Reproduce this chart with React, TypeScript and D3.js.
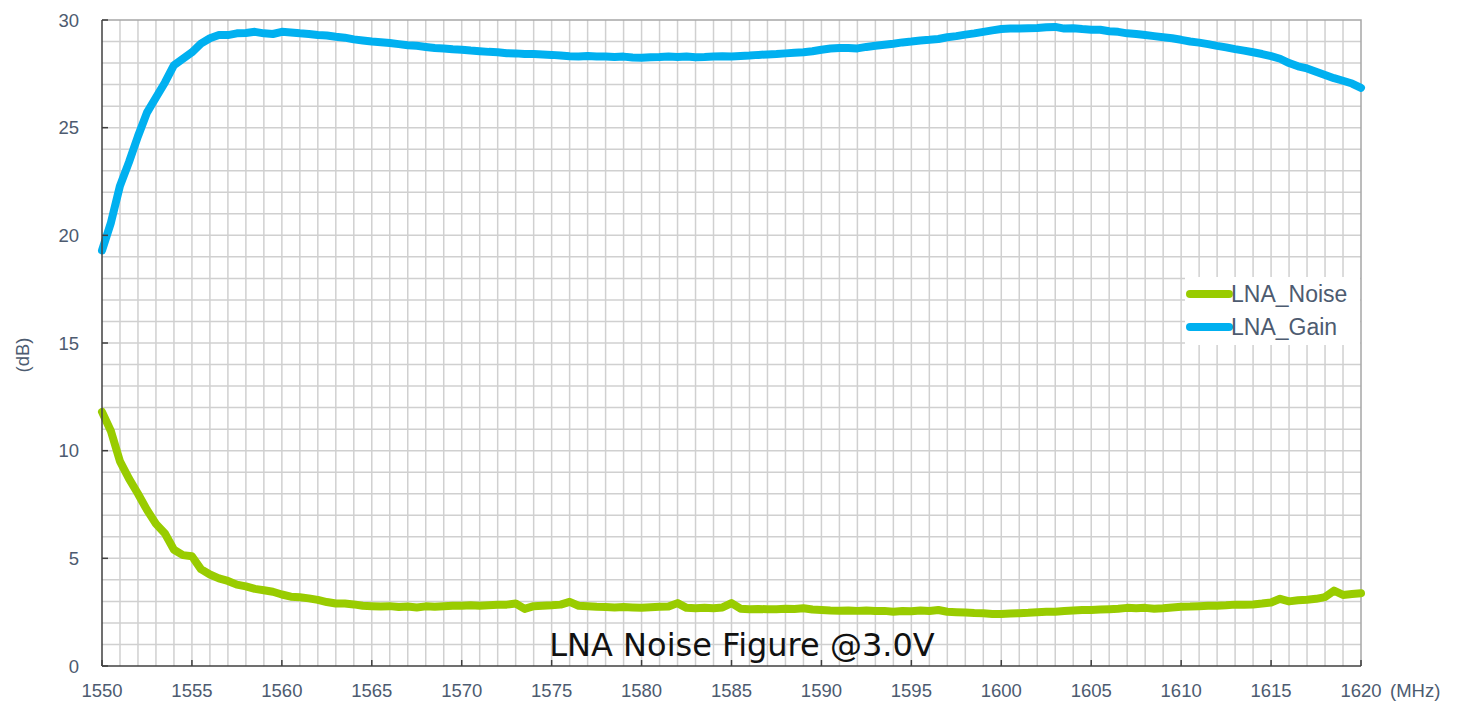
import * as d3 from "d3";

// sweep 1550..1620 MHz, 0.5 MHz step
const freqStart = 1550;
const freqStep = 0.5;

const gain = [
  19.3, 20.6, 22.3, 23.4, 24.6, 25.7, 26.4, 27.1, 27.9, 28.2,
  28.5, 28.9, 29.15, 29.3, 29.3, 29.38, 29.4, 29.45, 29.38, 29.35,
  29.45, 29.42, 29.38, 29.35, 29.3, 29.28, 29.22, 29.18, 29.1, 29.05,
  29.0, 28.97, 28.93, 28.88, 28.83, 28.8, 28.75, 28.7, 28.68, 28.64,
  28.62, 28.58, 28.55, 28.52, 28.5, 28.46, 28.45, 28.42, 28.42, 28.4,
  28.38, 28.35, 28.32, 28.3, 28.33, 28.3, 28.3, 28.28, 28.3, 28.26,
  28.25, 28.27, 28.28, 28.3, 28.28, 28.3, 28.27, 28.28, 28.3, 28.32,
  28.3, 28.33, 28.35, 28.38, 28.4, 28.42, 28.45, 28.48, 28.5, 28.55,
  28.62, 28.68, 28.7, 28.7, 28.68, 28.75, 28.8, 28.85, 28.9, 28.96,
  29.0, 29.05, 29.08, 29.12, 29.2, 29.25, 29.32, 29.38, 29.45, 29.52,
  29.58, 29.6, 29.6, 29.62, 29.63, 29.66, 29.68, 29.6, 29.62, 29.58,
  29.55, 29.55, 29.48, 29.45, 29.38, 29.35, 29.3, 29.25, 29.2, 29.15,
  29.08, 29.0, 28.95, 28.88, 28.8, 28.73, 28.65, 28.58, 28.5, 28.42,
  28.32, 28.2, 28.0, 27.85, 27.75, 27.6, 27.45, 27.3, 27.18, 27.05,
  26.85,
];

const noise = [
  11.8, 10.9, 9.5, 8.7, 8.0, 7.25, 6.6, 6.15, 5.4, 5.15,
  5.1, 4.5, 4.25, 4.07, 3.95, 3.78, 3.7, 3.58, 3.52, 3.45,
  3.32, 3.22, 3.19, 3.14, 3.07, 2.97, 2.9, 2.9, 2.86, 2.8,
  2.78, 2.76, 2.78, 2.74, 2.76, 2.72, 2.77, 2.75, 2.78, 2.8,
  2.8, 2.82, 2.8, 2.82, 2.84, 2.85, 2.9, 2.65, 2.78, 2.8,
  2.82, 2.85, 2.98, 2.8, 2.78, 2.75, 2.74, 2.72, 2.74, 2.72,
  2.7, 2.73, 2.75, 2.76, 2.92, 2.7, 2.68, 2.7, 2.68, 2.72,
  2.92, 2.66, 2.64, 2.65, 2.63, 2.64, 2.66, 2.65, 2.68, 2.62,
  2.6, 2.58, 2.57, 2.58, 2.56, 2.58, 2.55, 2.56, 2.52, 2.55,
  2.54, 2.58, 2.55, 2.6, 2.52, 2.5, 2.48, 2.46, 2.45, 2.42,
  2.42, 2.44, 2.45, 2.47, 2.5, 2.52, 2.52, 2.55, 2.58, 2.6,
  2.6, 2.62, 2.64, 2.66, 2.7, 2.68, 2.7, 2.66, 2.68, 2.72,
  2.75, 2.76, 2.78, 2.8, 2.8, 2.82, 2.85, 2.84, 2.86, 2.9,
  2.95, 3.12, 3.0, 3.05, 3.08, 3.12, 3.2, 3.5, 3.3, 3.34,
  3.38,
];

const xTicks = [1550, 1555, 1560, 1565, 1570, 1575, 1580, 1585, 1590, 1595, 1600, 1605, 1610, 1615, 1620];
const yTicks = [0, 5, 10, 15, 20, 25, 30];

const series = [
  { name: "LNA_Noise", values: noise, color: "#99cc00" },
  { name: "LNA_Gain", values: gain, color: "#00b0f0" },
];

const labelColor = "#4d5b70";
const tickFont = "'Liberation Sans', Arial, sans-serif";

export default function App() {
  const w = 1461;
  const h = 701;
  const left = 102, right = 1361, top = 20, bottom = 666;

  const x = d3.scaleLinear().domain([1550, 1620]).range([left, right]);
  const y = d3.scaleLinear().domain([0, 30]).range([bottom, top]);

  const line = d3
    .line<number>()
    .x((_, i) => x(freqStart + i * freqStep))
    .y((d) => y(d));

  const gridX = d3.range(1551, 1620);
  const gridY = d3.range(1, 30);

  return (
    <svg
      width={w}
      height={h}
      style={{ position: "absolute", left: 0, top: 0, background: "#fff" }}
    >
      {/* grid */}
      <g stroke="#d0d0d0" strokeWidth={1.5}>
        {gridX.map((f) => (
          <line key={"gx" + f} x1={x(f)} x2={x(f)} y1={top} y2={bottom} />
        ))}
        {gridY.map((v) => (
          <line key={"gy" + v} x1={left} x2={right} y1={y(v)} y2={y(v)} />
        ))}
      </g>
      {/* top / right border */}
      <path
        d={`M${left},${top}H${right}V${bottom}`}
        fill="none"
        stroke="#a6a6a6"
        strokeWidth={1.5}
      />

      {/* title inside the plot */}
      <text
        x={742}
        y={656}
        textAnchor="middle"
        fontFamily="'DejaVu Sans', Verdana, sans-serif"
        fontSize={32}
        fill="#111"
      >
        LNA Noise Figure @3.0V
      </text>

      {/* series */}
      {series.map((s) => (
        <path
          key={s.name}
          d={line(s.values) || ""}
          fill="none"
          stroke={s.color}
          strokeWidth={8}
          strokeLinejoin="round"
          strokeLinecap="round"
        />
      ))}

      {/* axes */}
      <g stroke="#404040" strokeWidth={1.5}>
        <line x1={left} x2={left} y1={top} y2={bottom} />
        <line x1={left} x2={right} y1={bottom} y2={bottom} />
        {xTicks.map((t) => (
          <line key={"xt" + t} x1={x(t)} x2={x(t)} y1={bottom} y2={bottom - 6} />
        ))}
        {yTicks.map((t) => (
          <line key={"yt" + t} x1={left} x2={left + 6} y1={y(t)} y2={y(t)} />
        ))}
      </g>
      <g fontFamily={tickFont} fontSize={18.5} fill={labelColor}>
        {xTicks.map((t) => (
          <text key={"xl" + t} x={x(t)} y={697} textAnchor="middle">
            {t}
          </text>
        ))}
        {yTicks.map((t) => (
          <text
            key={"yl" + t}
            x={79}
            y={y(t)}
            textAnchor="end"
            dominantBaseline="central"
          >
            {t}
          </text>
        ))}
        <text x={1390} y={697}>(MHz)</text>
        <text
          transform={`translate(22,355) rotate(-90)`}
          textAnchor="middle"
          dominantBaseline="central"
        >
          (dB)
        </text>
      </g>

      {/* legend */}
      <rect x={1185} y={277} width={right - 1185 - 1} height={68} fill="#fff" />
      {series.map((s, i) => {
        const ly = 294 + i * 33;
        return (
          <g key={"lg" + s.name}>
            <line
              x1={1190}
              x2={1229}
              y1={ly}
              y2={ly}
              stroke={s.color}
              strokeWidth={8}
              strokeLinecap="round"
            />
            <text
              x={1231}
              y={ly}
              dominantBaseline="central"
              fontFamily={tickFont}
              fontSize={23}
              fill={labelColor}
            >
              {s.name}
            </text>
          </g>
        );
      })}
    </svg>
  );
}
